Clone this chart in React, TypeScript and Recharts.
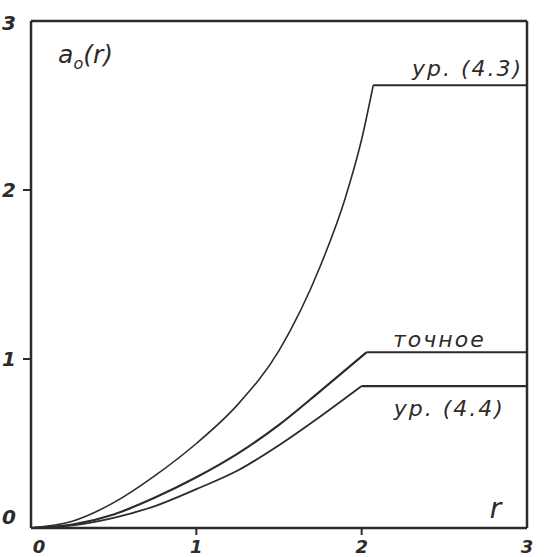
import { LineChart, Line, XAxis, YAxis, ReferenceLine, ReferenceDot } from 'recharts';

// r values and a0(r)
const upperR = [0, 0.25, 0.5, 0.75, 1, 1.25, 1.5, 1.75, 1.9, 2.0, 2.07];
const upperA = [0, 0.04, 0.15, 0.31, 0.5, 0.73, 1.05, 1.55, 1.95, 2.3, 2.62];
const upperFlatR = [2.07, 3];
const upperFlatA = [2.62, 2.62];

const exactR = [0, 0.25, 0.5, 0.75, 1, 1.25, 1.5, 1.75, 2.03];
const exactA = [0, 0.02, 0.08, 0.18, 0.3, 0.44, 0.61, 0.81, 1.04];
const exactFlatR = [2.03, 3];
const exactFlatA = [1.04, 1.04];

const lowerR = [0, 0.25, 0.5, 0.75, 1, 1.25, 1.5, 1.75, 2.0];
const lowerA = [0, 0.015, 0.06, 0.13, 0.23, 0.34, 0.49, 0.66, 0.84];
const lowerFlatR = [2.0, 3];
const lowerFlatA = [0.84, 0.84];

const xTicks = [0, 1, 2, 3];
const yTicks = [0, 1, 2, 3];

const curveLabels = [
  { text: 'ур. (4.3)', r: 2.64, a: 2.72 },
  { text: 'точное', r: 2.47, a: 1.12 },
  { text: 'ур. (4.4)', r: 2.53, a: 0.71 },
];

const ink = '#2e2b28';
const font = '"DejaVu Sans", sans-serif';

const zip = (xs: number[], ys: number[]) => xs.map((r, i) => ({ r, a: ys[i] }));

function XTick({ x, y, payload }: any) {
  const v = payload.value;
  return (
    <g>
      {(v === 1 || v === 2) && <line x1={x} x2={x} y1={y - 1} y2={y - 8} stroke={ink} strokeWidth={2} />}
      <text x={x + (v === 0 ? 8 : 0)} y={y + 17} textAnchor="middle" fill={ink} fontSize={18} fontStyle="italic" fontFamily={font} fontWeight="bold">
        {v}
      </text>
    </g>
  );
}

function YTick({ x, y, payload }: any) {
  const v = payload.value;
  return (
    <g>
      {(v === 1 || v === 2) && <line x1={x} x2={x + 8} y1={y} y2={y} stroke={ink} strokeWidth={2} />}
      <text x={x - 7} y={y + (v === 0 ? -4 : v === 3 ? 9 : 7)} textAnchor="end" fill={ink} fontSize={20} fontStyle="italic" fontFamily={font} fontWeight="bold">
        {v}
      </text>
    </g>
  );
}

const textShape = (text: string) => (p: any) => (
  <text x={p.cx} y={p.cy + 8} textAnchor="middle" fill={ink} fontSize={22} fontStyle="italic" fontFamily={font} letterSpacing={2}>
    {text}
  </text>
);

export default function App() {
  return (
    <div style={{ position: 'absolute', left: 0, top: 0, width: 545, height: 557, background: '#fff' }}>
      <LineChart width={545} height={557} margin={{ top: 21, right: 18, bottom: 0, left: 0 }}>
        <XAxis
          dataKey="r"
          type="number"
          domain={[0, 3]}
          ticks={xTicks}
          allowDuplicatedCategory={false}
          height={29}
          axisLine={{ stroke: ink, strokeWidth: 2.5 }}
          tickLine={false}
          tick={<XTick />}
        />
        <YAxis
          type="number"
          domain={[0, 3]}
          ticks={yTicks}
          width={31}
          axisLine={{ stroke: ink, strokeWidth: 2.5 }}
          tickLine={false}
          tick={<YTick />}
        />
        <ReferenceLine y={3} stroke={ink} strokeWidth={2.5} />
        <ReferenceLine x={3} stroke={ink} strokeWidth={2.5} />

        <Line data={zip(upperR, upperA)} dataKey="a" type="monotone" stroke={ink} strokeWidth={1.6} dot={false} isAnimationActive={false} />
        <Line data={zip(upperFlatR, upperFlatA)} dataKey="a" type="linear" stroke={ink} strokeWidth={2} dot={false} isAnimationActive={false} />
        <Line data={zip(exactR, exactA)} dataKey="a" type="monotone" stroke={ink} strokeWidth={2.2} dot={false} isAnimationActive={false} />
        <Line data={zip(exactFlatR, exactFlatA)} dataKey="a" type="linear" stroke={ink} strokeWidth={2.2} dot={false} isAnimationActive={false} />
        <Line data={zip(lowerR, lowerA)} dataKey="a" type="monotone" stroke={ink} strokeWidth={1.8} dot={false} isAnimationActive={false} />
        <Line data={zip(lowerFlatR, lowerFlatA)} dataKey="a" type="linear" stroke={ink} strokeWidth={2.2} dot={false} isAnimationActive={false} />

        {curveLabels.map((l) => (
          <ReferenceDot key={l.text} x={l.r} y={l.a} r={0} shape={textShape(l.text)} />
        ))}
        <ReferenceDot
          x={0.33}
          y={2.8}
          r={0}
          shape={(p: any) => (
            <text x={p.cx} y={p.cy + 8} textAnchor="middle" fill={ink} fontSize={25} fontStyle="italic" fontFamily={font}>
              a<tspan fontSize={16} dy={6}>o</tspan>
              <tspan dy={-6}>(r)</tspan>
            </text>
          )}
        />
        <ReferenceDot
          x={2.81}
          y={0.12}
          r={0}
          shape={(p: any) => (
            <text x={p.cx} y={p.cy + 10} textAnchor="middle" fill={ink} fontSize={28} fontStyle="italic" fontFamily={font}>
              r
            </text>
          )}
        />
      </LineChart>
    </div>
  );
}
